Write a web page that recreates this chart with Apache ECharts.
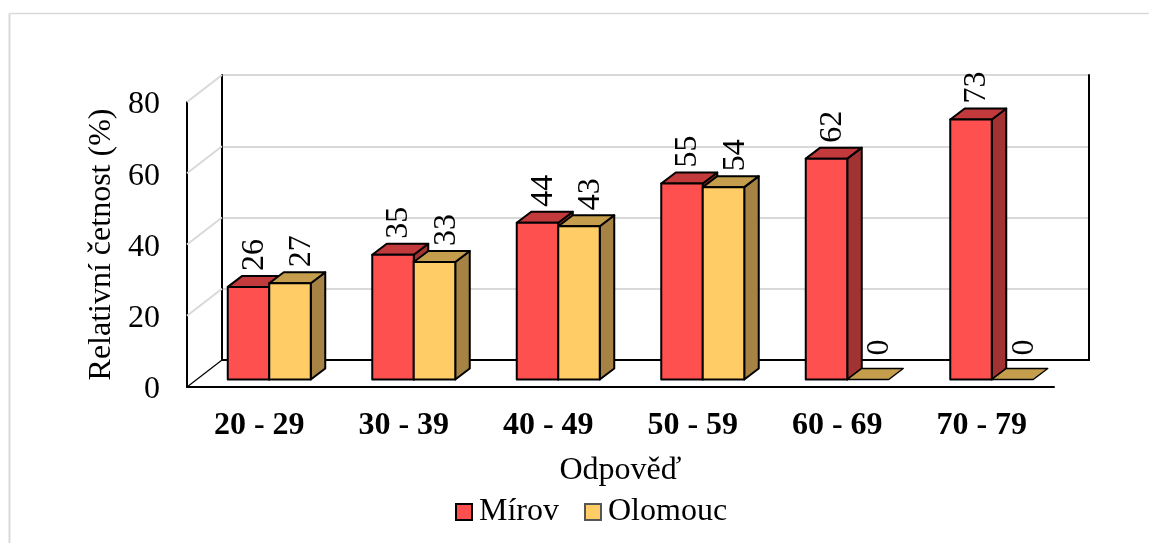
<!DOCTYPE html>
<html>
<head>
<meta charset="utf-8">
<style>html,body{margin:0;padding:0;background:#fff}#c{width:1149px;height:543px}</style>
<script src="https://cdn.jsdelivr.net/npm/echarts@6/dist/echarts.min.js"></script>
</head>
<body>
<div id="c"></div>
<script>
const categories = ['20 - 29', '30 - 39', '40 - 49', '50 - 59', '60 - 69', '70 - 79'];
const mirov = [26, 35, 44, 55, 62, 73];
const olomouc = [27, 33, 43, 54, 0, 0];
const ticks = [0, 20, 40, 60, 80];

const FONT = '"Liberation Serif", "Times New Roman", serif';
const FS = 32;
const WALL_DX = 35, WALL_DY = -27;   // floor depth
const BAR_SHIFT_X = 10, BAR_SHIFT_Y = -7.5; // bars stand partway into the floor
const DEPTH_X = 14.5, DEPTH_Y = -11;  // depth of a single bar
const BAR_W = 41.5;

function barRenderer(slot, front, top, side) {
  return function (params, api) {
    const cat = api.value(0), val = api.value(1);
    const p0 = api.coord([cat, 0]);
    const pv = api.coord([cat, val]);
    const x0 = p0[0] + BAR_SHIFT_X + (slot === 0 ? -BAR_W : 0);
    const x1 = x0 + BAR_W;
    const yb = p0[1] + BAR_SHIFT_Y;
    const yt = pv[1] + BAR_SHIFT_Y;
    const line = { stroke: '#000', lineWidth: 2, lineJoin: 'round' };
    const children = [];
    if (val > 0) {
      children.push({ type: 'polygon', shape: { points: [[x1, yb], [x1 + DEPTH_X, yb + DEPTH_Y], [x1 + DEPTH_X, yt + DEPTH_Y], [x1, yt]] }, style: Object.assign({ fill: side }, line) });
    }
    children.push({ type: 'polygon', shape: { points: [[x0, yt], [x0 + DEPTH_X, yt + DEPTH_Y], [x1 + DEPTH_X, yt + DEPTH_Y], [x1, yt]] }, style: Object.assign({ fill: top }, line, val > 0 ? {} : { lineWidth: 1.4 }) });
    if (val > 0) {
      children.push({ type: 'rect', shape: { x: x0, y: yt, width: BAR_W, height: yb - yt }, style: Object.assign({ fill: front }, line) });
    }
    children.push({
      type: 'text', rotation: Math.PI / 2,
      x: (x0 + x1) / 2 + (slot === 0 ? 6 : 12), y: yt + DEPTH_Y - (val > 0 ? 5 : 13),
      style: { text: String(val), font: FS + 'px ' + FONT, fill: '#000', align: 'left', verticalAlign: 'middle' }
    });
    return { type: 'group', children };
  };
}

function wallRenderer(params, api) {
  const v = api.value(0);
  const p = api.coord([0, v]);
  const x = params.coordSys.x;
  return {
    type: 'line',
    shape: { x1: x, y1: p[1], x2: x + WALL_DX, y2: p[1] + WALL_DY },
    style: { stroke: v === 0 ? '#000' : '#d9d9d9', lineWidth: v === 0 ? 1.2 : 2 }
  };
}

const noAxisParts = { axisLabel: { show: false }, axisTick: { show: false }, splitLine: { show: false } };

const option = {
  animation: false,
  backgroundColor: '#fff',
  textStyle: { fontFamily: FONT },
  grid: [
    { left: 187, top: 102, width: 867, height: 285 },
    { left: 222, top: 75, width: 867, height: 285 }
  ],
  xAxis: [
    {
      type: 'category', gridIndex: 0, data: categories,
      axisLine: { lineStyle: { color: '#000', width: 2 } }, axisTick: { show: false },
      axisLabel: { margin: 23, fontFamily: FONT, fontSize: FS, fontWeight: 'bold', color: '#000', interval: 0 },
      name: 'Odpověď', nameLocation: 'middle', nameGap: 68,
      nameTextStyle: { fontFamily: FONT, fontSize: FS, color: '#000' }
    },
    Object.assign({ type: 'category', gridIndex: 1, data: categories, axisLine: { lineStyle: { color: '#000', width: 2 } } }, noAxisParts)
  ],
  yAxis: [
    {
      type: 'value', gridIndex: 0, min: 0, max: 80, interval: 20,
      axisLine: { show: true, lineStyle: { color: '#000', width: 2 } }, axisTick: { show: false }, splitLine: { show: false },
      axisLabel: { margin: 27, fontFamily: FONT, fontSize: FS, color: '#000', verticalAlign: 'top', lineHeight: 6 },
      name: 'Relativní četnost (%)', nameLocation: 'middle', nameGap: 67,
      nameTextStyle: { fontFamily: FONT, fontSize: FS, color: '#000' }
    },
    {
      type: 'value', gridIndex: 1, min: 0, max: 80, interval: 20, position: 'left',
      axisLine: { show: true, lineStyle: { color: '#000', width: 2 } }, axisTick: { show: false }, axisLabel: { show: false },
      splitLine: { show: true, lineStyle: { color: '#d9d9d9', width: 2 } }
    },
    Object.assign({ type: 'value', gridIndex: 1, min: 0, max: 80, interval: 20, position: 'right', axisLine: { show: true, lineStyle: { color: '#000', width: 2 } } }, noAxisParts)
  ],
  legend: {
    data: ['Mírov', 'Olomouc'], left: 450, top: 491, itemWidth: 16, itemHeight: 16, itemGap: 25,
    icon: 'rect', textStyle: { fontFamily: FONT, fontSize: FS, color: '#000', padding: [0, 0, 0, 2] }
  },
  series: [
    { type: 'custom', name: 'walls', xAxisIndex: 0, yAxisIndex: 0, data: ticks.map(t => [t]), encode: { y: 0 }, renderItem: wallRenderer, silent: true, z: 1, clip: false },
    {
      type: 'custom', name: 'Mírov', xAxisIndex: 0, yAxisIndex: 0,
      data: mirov.map((v, i) => [i, v]), encode: { x: 0, y: 1 },
      renderItem: barRenderer(0, '#ff5050', '#c33a3c', '#a33333'),
      itemStyle: { color: '#ff5050', borderColor: '#000', borderWidth: 2 }, z: 3, clip: false
    },
    {
      type: 'custom', name: 'Olomouc', xAxisIndex: 0, yAxisIndex: 0,
      data: olomouc.map((v, i) => [i, v]), encode: { x: 0, y: 1 },
      renderItem: barRenderer(1, '#ffcc66', '#c49e4d', '#a68245'),
      itemStyle: { color: '#ffcc66', borderColor: '#555', borderWidth: 1.5 }, z: 4, clip: false
    }
  ],
  graphic: [
    { type: 'line', silent: true, shape: { x1: 9.5, y1: 13.5, x2: 1149, y2: 13.5 }, style: { stroke: '#d9d9d9', lineWidth: 1.5 } },
    { type: 'line', silent: true, shape: { x1: 9.5, y1: 13.5, x2: 9.5, y2: 543 }, style: { stroke: '#d9d9d9', lineWidth: 2 } }
  ]
};
const chart = echarts.init(document.getElementById('c'), null, { renderer: 'canvas' });
chart.setOption(option);
</script>
</body>
</html>
